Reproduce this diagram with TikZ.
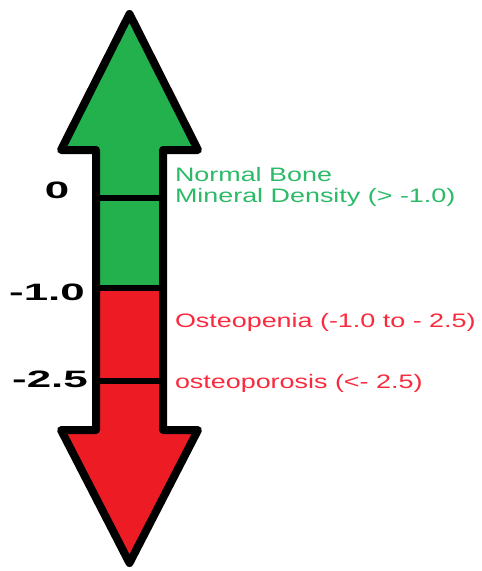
\documentclass[tikz,border=0pt]{standalone}
\usepackage{fontspec}
\setmainfont{Liberation Sans}
\newfontfamily\numfont{Liberation Sans}[FakeStretch=1.85]
\newfontfamily\lblfont{Liberation Sans}[FakeStretch=1.38]
\definecolor{bmdgreen}{HTML}{22B14C}
\definecolor{bmdred}{HTML}{ED1C24}
\definecolor{txtgreen}{HTML}{2CBA68}
\definecolor{txtred}{HTML}{FA2A3E}
\tikzset{
  outline/.style={draw=black, line width=8pt, line join=round},
  tick/.style={draw=black, line width=6pt},
  score/.style={inner sep=0pt, outer sep=0pt, anchor=base, font=\numfont\bfseries\fontsize{23.7}{26}\selectfont},
  glabel/.style={inner sep=0pt, outer sep=0pt, anchor=base west, text=txtgreen, font=\lblfont\fontsize{19.5}{21}\selectfont},
  rlabel/.style={inner sep=0pt, outer sep=0pt, anchor=base west, text=txtred, font=\lblfont\fontsize{19.5}{21}\selectfont}
}
\begin{document}
\begin{tikzpicture}[x=1pt, y=-1pt]
\useasboundingbox (0,0) rectangle (482,571);
% coordinates of the double arrow
\coordinate (tt) at (129.5,14);
\coordinate (hl) at (61,150);
\coordinate (hr) at (198,150);
\coordinate (sl) at (96,150);
\coordinate (sr) at (163,150);
\coordinate (ml) at (96,287.5);
\coordinate (mr) at (163,287.5);
\coordinate (bl) at (96,430);
\coordinate (br) at (163,430);
\coordinate (bhl) at (61,430);
\coordinate (bhr) at (198,430);
\coordinate (bt) at (129.5,563);
\coordinate (zl) at (96,198);
\coordinate (zr) at (163,198);
\coordinate (ol) at (96,381);
\coordinate (or) at (163,381);
% fills
\fill[bmdgreen] (tt) -- (hr) -- (sr) -- (mr) -- (ml) -- (sl) -- (hl) -- cycle;
\fill[bmdred] (ml) -- (mr) -- (br) -- (bhr) -- (bt) -- (bhl) -- (bl) -- cycle;
% outline
\draw[outline] (tt) -- (hr) -- (sr) -- (br) -- (bhr) -- (bt) -- (bhl) -- (bl) -- (sl) -- (hl) -- cycle;
% ticks
\draw[tick] (zl) -- (zr);
\draw[tick] (ml) -- (mr);
\draw[tick] (ol) -- (or);
% scores
\node[score] (s0) at (57,198) {0};
\node[score] (s1) at (47,300) {-1.0};
\node[score] (s2) at (50,387) {-2.5};
% labels
\node[glabel] (n1) at (175,181) {Normal Bone};
\node[glabel] (n2) at (175,202) {Mineral Density (> -1.0)};
\node[rlabel] (op) at (175,327) {Osteopenia (-1.0 to - 2.5)};
\node[rlabel] (os) at (175,388) {osteoporosis (<- 2.5)};
\end{tikzpicture}
\end{document}
